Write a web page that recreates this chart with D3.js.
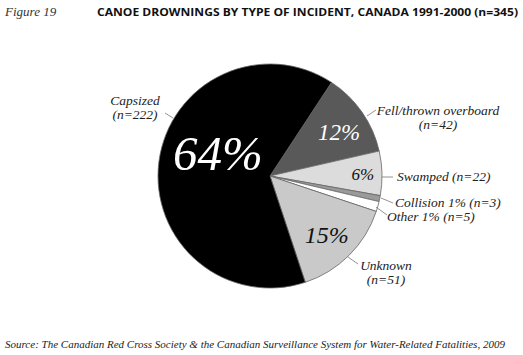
<!DOCTYPE html>
<html><head><meta charset="utf-8">
<script src="https://cdn.jsdelivr.net/npm/d3@7"></script>
<style>
html,body{margin:0;padding:0;background:#fff;}
svg{display:block;}
</style>
</head><body>
<script>
const categories = ["Fell/thrown overboard","Swamped","Collision","Other","Unknown","Capsized"];
const counts = [42,22,3,5,51,222];
const pctLabels = ["12%","6%","1%","1%","15%","64%"];
const outerLabels = [
  ["Fell/thrown overboard","(n=42)"],
  ["Swamped (n=22)"],
  ["Collision 1% (n=3)"],
  ["Other 1% (n=5)"],
  ["Unknown","(n=51)"],
  ["Capsized","(n=222)"]
];
const fills = ["#595959","#dcdcdc","#9a9a9a","#ffffff","#c9c9c9","#000000"];

const W=523,H=355;
const svg=d3.select("body").append("svg").attr("width",W).attr("height",H);
const serif="Liberation Serif";

svg.append("text").attr("x",5).attr("y",16).attr("font-family",serif).attr("font-style","italic")
  .attr("font-size",13).attr("fill","#333").text("Figure 19");
svg.append("text").attr("x",97).attr("y",16).attr("font-family","Open Sans")
  .attr("font-weight","bold").attr("font-size",10.5).attr("fill","#111")
  .attr("textLength",421).attr("lengthAdjust","spacingAndGlyphs")
  .text("CANOE DROWNINGS BY TYPE OF INCIDENT, CANADA 1991-2000 (n=345)");

const cx=270, cy=176, r=112;
const start=33.3*Math.PI/180;
const pie=d3.pie().sort(null).value(d=>d).startAngle(start).endAngle(start+2*Math.PI);
const arcs=pie(counts);
const arc=d3.arc().innerRadius(0).outerRadius(r);
const g=svg.append("g").attr("transform",`translate(${cx},${cy})`);
g.selectAll("path").data(arcs).join("path").attr("d",arc)
  .attr("fill",(d,i)=>fills[i]).attr("stroke","#666").attr("stroke-width",0.8);

// inside percent labels (position from slice mid-angle, with small nudge)
const inside=[
  {i:0,rad:0.73,nudge:2.5,size:23,fill:"#fff"},
  {i:1,rad:0.83,nudge:0,size:17,fill:"#111"},
  {i:4,rad:0.73,nudge:1,size:24,fill:"#111"},
  {i:5,rad:0.51,nudge:16.5,size:49,fill:"#fff"}
];
inside.forEach(o=>{
  const a=arcs[o.i];
  const mid=(a.startAngle+a.endAngle)/2+o.nudge*Math.PI/180;
  const c=d3.arc().innerRadius(r*o.rad).outerRadius(r*o.rad).centroid({startAngle:mid,endAngle:mid});
  g.append("text").attr("x",c[0]).attr("y",c[1]).attr("dy","0.35em")
    .attr("text-anchor","middle").attr("font-family",serif).attr("font-style","italic")
    .attr("font-size",o.size).attr("fill",o.fill).text(pctLabels[o.i]);
});

// outer labels with leader lines
const lab=[
  {x:438,y:115,anchor:"middle",l:[[367,116],[376,110]]},
  {x:397,y:181,anchor:"start",l:[[382,177],[393,177]]},
  {x:395,y:207,anchor:"start",l:[[381,198],[393,203]]},
  {x:387,y:221,anchor:"start",l:[[376,207],[387,215]]},
  {x:386,y:270,anchor:"middle",l:[[348,257],[358,264]]},
  {x:135,y:105,anchor:"middle",l:[[165,113],[173,118]]}
];
lab.forEach((o,i)=>{
  svg.append("line").attr("x1",o.l[0][0]).attr("y1",o.l[0][1]).attr("x2",o.l[1][0]).attr("y2",o.l[1][1])
    .attr("stroke","#777").attr("stroke-width",0.8);
  const t=svg.append("text").attr("x",o.x).attr("y",o.y).attr("text-anchor",o.anchor)
    .attr("font-family",serif).attr("font-style","italic").attr("font-size",13.5).attr("fill","#222");
  outerLabels[i].forEach((s,j)=>{
    t.append("tspan").attr("x",o.x).attr("dy",j===0?0:14).text(s);
  });
});

svg.append("text").attr("x",5).attr("y",348).attr("font-family",serif).attr("font-style","italic")
  .attr("font-size",11).attr("fill","#222")
  .text("Source: The Canadian Red Cross Society & the Canadian Surveillance System for Water-Related Fatalities, 2009");
</script>
</body></html>
